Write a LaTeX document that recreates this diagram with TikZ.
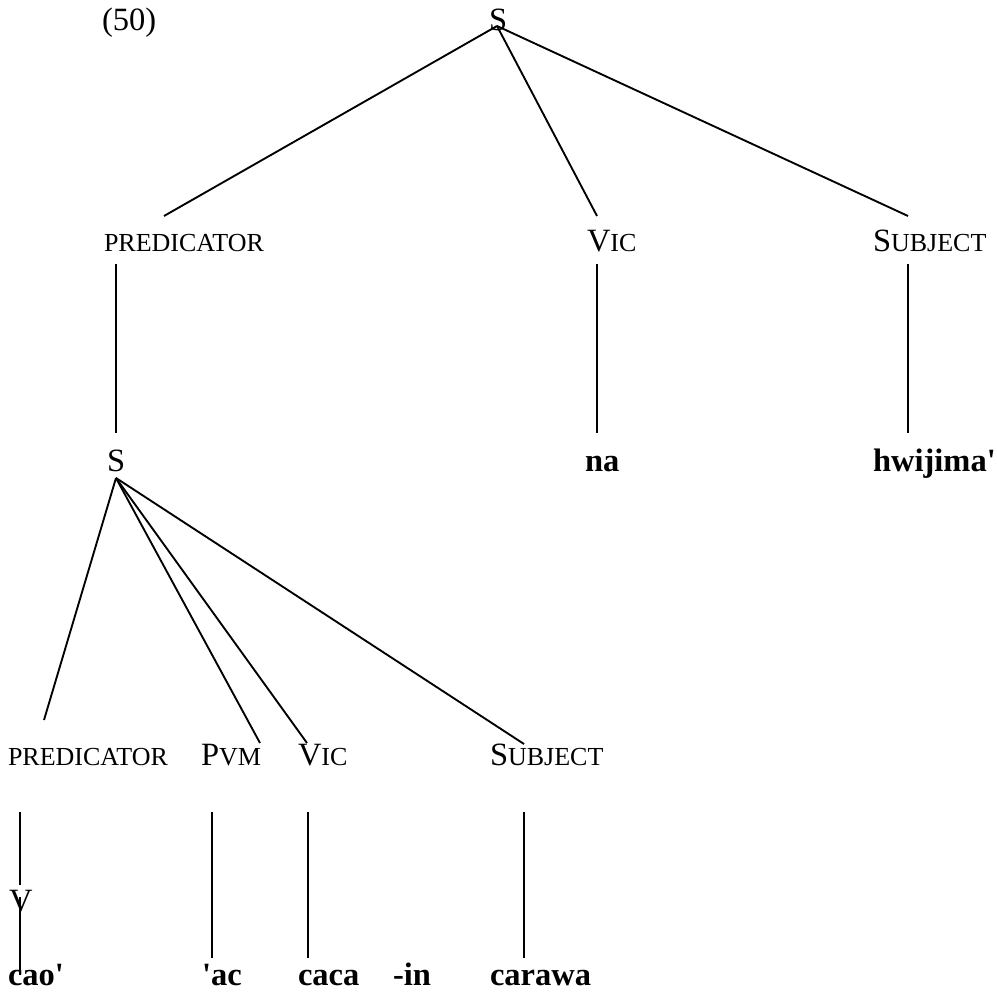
\documentclass[tikz,border=0pt]{standalone}
\usepackage{fontspec}
\newfontfamily\tnr{Liberation Serif}
% hand-made small capitals: full-size initial, reduced capitals after it
\newcommand\smallcap[1]{{\fontsize{10.4}{12}\selectfont #1}}
\newcommand\smcaps[2]{#1\smallcap{#2}}
\begin{document}
\begin{tikzpicture}[x=0.4pt,y=-0.4pt,
  lbl/.style={anchor=base west,inner sep=0pt,outer sep=0pt,font=\tnr\fontsize{13}{15}\selectfont},
  word/.style={lbl,font=\tnr\fontsize{13}{15}\selectfont\bfseries},
  branch/.style={line width=0.75pt}]
\useasboundingbox (0,0) rectangle (997,993);

% example number
\node[lbl] (ex) at (102,30) {(50)};

% top clause
\node[lbl] (s0) at (489,30) {S};
\node[lbl] (pred1) at (104,251) {\smallcap{PREDICATOR}};
\node[lbl] (vic1) at (587,251) {\smcaps{V}{IC}};
\node[lbl] (subj1) at (873,251) {\smcaps{S}{UBJECT}};
\node[lbl] (s2) at (107,471) {S};
\node[word] (na) at (585,471) {na};
\node[word] (hw) at (873,471) {hwijima'};

% embedded clause
\node[lbl] (pred3) at (8,765) {\smallcap{PREDICATOR}};
\node[lbl] (pvm) at (201,765) {\smcaps{P}{VM}};
\node[lbl] (vic3) at (298,765) {\smcaps{V}{IC}};
\node[lbl] (subj3) at (490,765) {\smcaps{S}{UBJECT}};
\node[lbl] (v) at (9,911) {V};

% words
\node[word] (cao) at (8,985) {cao'};
\node[word] (ac) at (202,985) {'ac};
\node[word] (caca) at (298,985) {caca};
\node[word] (in) at (393,985) {-in};
\node[word] (carawa) at (490,985) {carawa};

% branch end points
\coordinate (top) at (497,26);
\coordinate (pred1t) at (164,216);
\coordinate (vic1t) at (597,216);
\coordinate (subj1t) at (908,216);
\coordinate (pred1b) at (116,264);
\coordinate (s2t) at (116,433);
\coordinate (vic1b) at (597,264);
\coordinate (nat) at (597,433);
\coordinate (subj1b) at (908,264);
\coordinate (hwt) at (908,433);
\coordinate (mid) at (116,478);
\coordinate (pred3t) at (44,720);
\coordinate (pvmt) at (260,743);
\coordinate (vic3t) at (307,743);
\coordinate (subj3t) at (524,744);
\coordinate (pred3b) at (20,812);
\coordinate (vt) at (20,885);
\coordinate (vb) at (20,897);
\coordinate (caot) at (20,975);
\coordinate (pvmb) at (212,812);
\coordinate (act) at (212,958);
\coordinate (vic3b) at (308,812);
\coordinate (cacat) at (308,958);
\coordinate (subj3b) at (524,812);
\coordinate (carawat) at (524,958);

% branches
\draw[branch] (top) -- (pred1t);
\draw[branch] (top) -- (vic1t);
\draw[branch] (top) -- (subj1t);
\draw[branch] (pred1b) -- (s2t);
\draw[branch] (vic1b) -- (nat);
\draw[branch] (subj1b) -- (hwt);
\draw[branch] (mid) -- (pred3t);
\draw[branch] (mid) -- (pvmt);
\draw[branch] (mid) -- (vic3t);
\draw[branch] (mid) -- (subj3t);
\draw[branch] (pred3b) -- (vt);
\draw[branch] (vb) -- (caot);
\draw[branch] (pvmb) -- (act);
\draw[branch] (vic3b) -- (cacat);
\draw[branch] (subj3b) -- (carawat);
\end{tikzpicture}
\end{document}
